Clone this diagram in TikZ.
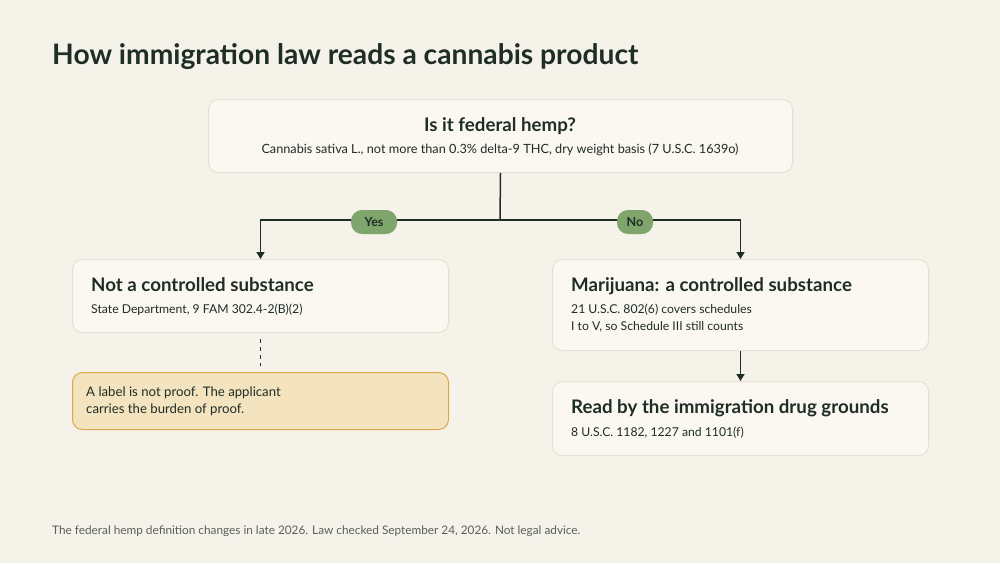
\documentclass[tikz,border=0pt]{standalone}
\usepackage{fontspec}
\setmainfont{Lato}
\usetikzlibrary{arrows.meta,positioning}

\definecolor{pagebg}{HTML}{F5F2EA}
\definecolor{boxfill}{HTML}{FAF8F1}
\definecolor{boxline}{HTML}{E4E0D2}
\definecolor{ink}{HTML}{1F2D27}
\definecolor{pillgreen}{HTML}{7FA56C}
\definecolor{warnfill}{HTML}{F3E3BE}
\definecolor{warnline}{HTML}{DDA64A}
\definecolor{footgray}{HTML}{5A5F5B}

\tikzset{
  card/.style={draw=boxline, fill=boxfill, line width=1pt, rounded corners=10pt, anchor=north west, inner sep=0pt},
  warncard/.style={card, draw=warnline, fill=warnfill},
  head/.style={anchor=base west, inner sep=0pt, text=ink, font=\fontsize{18.7}{22}\selectfont\bfseries},
  sub/.style={anchor=base west, inner sep=0pt, text=ink, font=\fontsize{12.2}{17}\selectfont, align=left},
  pill/.style={fill=pillgreen, rounded corners=11pt, minimum height=24pt, inner sep=0pt, text=ink, font=\fontsize{12.5}{14}\selectfont\bfseries},
  link/.style={draw=ink, line width=1.5pt}
}

\begin{document}
\begin{tikzpicture}[x=1pt, y=-1pt, >={Triangle[length=7pt,width=8pt]}]
  \fill[pagebg] (0,0) rectangle (1000,563);
  \useasboundingbox (0,0) rectangle (1000,563);

  \node[anchor=base west, inner sep=0pt, text=ink, font=\fontsize{28.2}{32}\selectfont\bfseries] (title) at (52,64) {How immigration law reads a cannabis product};

  % question
  \node[card, minimum width=584pt, minimum height=73pt] (hemp) at (208,99) {};
  \node[anchor=base, inner sep=0pt, text=ink, font=\fontsize{18.7}{22}\selectfont\bfseries] (hempq) at (500,131) {Is it federal hemp?};
  \node[anchor=base, inner sep=0pt, text=ink, font=\fontsize{12.7}{14}\selectfont] (hempdef) at (500,153) {Cannabis sativa L., not more than 0.3\% delta-9 THC, dry weight basis (7 U.S.C. 1639o)};

  % yes branch
  \node[card, minimum width=376pt, minimum height=73pt] (notcs) at (72,259) {};
  \node[head] (notcshead) at (91,291) {Not a controlled substance};
  \node[sub] (notcssub) at (91,313) {State Department, 9 FAM 302.4-2(B)(2)};
  \node[warncard, minimum width=376pt, minimum height=57pt] (proof) at (72,372) {};
  \node[sub, font=\fontsize{13.2}{17}\selectfont] (prooftext) at (86,413) {A label is not proof. The applicant\\carries the burden of proof.};

  % no branch
  \node[card, minimum width=376pt, minimum height=91pt] (mj) at (552,259) {};
  \node[head] (mjhead) at (571,291) {Marijuana: a controlled substance};
  \node[sub] (mjsub) at (571,330) {21 U.S.C. 802(6) covers schedules\\I to V, so Schedule III still counts};
  \node[card, minimum width=376pt, minimum height=74pt] (drug) at (552,381) {};
  \node[head] (drughead) at (571,413) {Read by the immigration drug grounds};
  \node[sub] (drugsub) at (571,436) {8 U.S.C. 1182, 1227 and 1101(f)};

  % connectors
  \coordinate (fork) at (500,220);
  \draw[link] (hemp.south) -- (fork);
  \draw[link, ->] (fork) -| (notcs.north);
  \draw[link, ->] (fork) -| (mj.north);
  \node[pill, minimum width=46pt] (yes) at (374,222) {Yes};
  \node[pill, minimum width=36pt] (no) at (635,222) {No};
  \draw[ink, line width=1.5pt, dash pattern=on 4pt off 4pt, shorten <=6pt, shorten >=6pt] (notcs.south) -- (proof.north);
  \draw[link, ->] (mj.south) -- (drug.north);

  \node[anchor=base west, inner sep=0pt, text=footgray, font=\fontsize{11.8}{13}\selectfont] (foot) at (52,534) {The federal hemp definition changes in late 2026. Law checked September 24, 2026. Not legal advice.};
\end{tikzpicture}
\end{document}
